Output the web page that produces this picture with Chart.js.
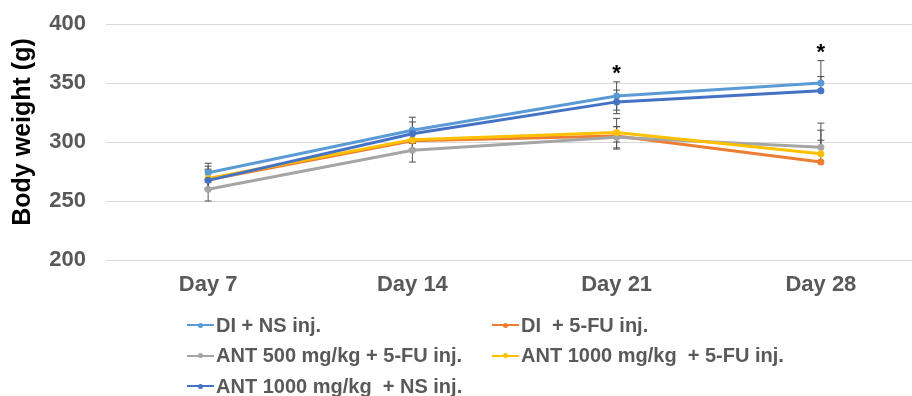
<!DOCTYPE html>
<html>
<head>
<meta charset="utf-8">
<script src="https://cdn.jsdelivr.net/npm/chart.js@4.4.1/dist/chart.umd.min.js"></script>
<style>
  html, body { margin: 0; padding: 0; background: #fff; overflow: hidden; }
  #wrap { position: relative; width: 927px; height: 396px; }
  #legend { position: absolute; left: 0; top: 0; width: 927px; height: 396px; pointer-events: none;
            font-family: "Liberation Sans", Arial, sans-serif; font-weight: bold; font-size: 20px; color: #595959; }
  .item { position: absolute; display: flex; align-items: center; height: 30px; white-space: pre; }
  .mark { position: relative; width: 27px; height: 30px; margin-right: 2px; }
  .mark .ln { position: absolute; left: 0; right: 0; top: 14px; height: 2px; }
  .mark .dot { position: absolute; left: 11px; top: 12.5px; width: 5px; height: 5px; border-radius: 50%; }
</style>
</head>
<body>
<div id="wrap">
  <canvas id="weightChart" width="927" height="300"></canvas>
  <div id="legend"></div>
</div>
<script>
// categorias y valores (g)
const days = ['Day 7', 'Day 14', 'Day 21', 'Day 28'];
const yTicks = [200, 250, 300, 350, 400];
const sigDays = ['Day 21', 'Day 28'];

const seriesNames = [
    'DI + NS inj.',
    'DI  + 5-FU inj.',
    'ANT 500 mg/kg + 5-FU inj.',
    'ANT 1000 mg/kg  + 5-FU inj.',
    'ANT 1000 mg/kg  + NS inj.'
];
const seriesColors = ['#5B9BD5', '#ED7D31', '#A5A5A5', '#FFC000', '#4472C4'];

const diNs       = [274, 310, 339, 350];
const di5fu      = [268, 301, 305, 283];
const ant500fu   = [260, 293, 304, 295.5];
const ant1000fu  = [269, 302, 308, 290];
const ant1000ns  = [267.5, 307, 334, 343.5];

// barras de error [arriba, abajo]
const diNsErr      = [[8, 8], [11, 11], [12, 12], [19, 0]];
const di5fuErr     = [[8, 8], [8, 8], [15, 10], [18.5, 0]];
const ant500fuErr  = [[8, 10], [8, 10], [9, 10], [20.5, 0]];
const ant1000fuErr = [[8, 8], [8, 8], [5, 8], [20, 0]];
const ant1000nsErr = [[12, 8], [10, 8], [10, 10], [12, 0]];

const seriesData = [diNs, di5fu, ant500fu, ant1000fu, ant1000ns];
const seriesErr = [diNsErr, di5fuErr, ant500fuErr, ant1000fuErr, ant1000nsErr];

const fontFam = '"Liberation Sans", Arial, sans-serif';

// plugin: barras de error, asteriscos y titulo del eje Y
const extrasPlugin = {
    id: 'extras',
    beforeDatasetsDraw(chart) {
        const ctx = chart.ctx;
        const x = chart.scales.x, y = chart.scales.y;
        ctx.save();
        ctx.strokeStyle = '#505050';
        ctx.lineWidth = 1;
        chart.data.datasets.forEach(function(ds, di) {
            ds.data.forEach(function(v, i) {
                const e = seriesErr[di][i];
                const px = x.getPixelForValue(i);
                const top = y.getPixelForValue(v + e[0]);
                const bot = y.getPixelForValue(v - e[1]);
                ctx.beginPath();
                ctx.moveTo(px, top); ctx.lineTo(px, bot);
                if (e[0] > 0) { ctx.moveTo(px - 3.5, top); ctx.lineTo(px + 3.5, top); }
                if (e[1] > 0) { ctx.moveTo(px - 3.5, bot); ctx.lineTo(px + 3.5, bot); }
                ctx.stroke();
            });
        });
        ctx.restore();
    },
    afterDraw(chart) {
        const ctx = chart.ctx;
        const x = chart.scales.x, y = chart.scales.y;
        ctx.save();
        ctx.fillStyle = '#000';
        ctx.font = 'bold 22px ' + fontFam;
        ctx.textAlign = 'center';
        ctx.textBaseline = 'alphabetic';
        sigDays.forEach(function(d) {
            const i = days.indexOf(d);
            let maxTop = 0;
            seriesData.forEach(function(s, si) {
                maxTop = Math.max(maxTop, s[i] + seriesErr[si][i][0]);
            });
            ctx.fillText('*', x.getPixelForValue(i), y.getPixelForValue(maxTop) - 2);
        });
        // titulo eje Y
        ctx.font = 'bold 25px ' + fontFam;
        ctx.translate(23, 132);
        ctx.rotate(-Math.PI / 2);
        ctx.textBaseline = 'middle';
        ctx.fillText('Body weight (g)', 0, 0);
        ctx.restore();
    }
};

const ctx1 = document.getElementById('weightChart');
new Chart(ctx1, {
    type: 'line',
    data: {
        labels: days,
        datasets: seriesData.map(function(s, i) {
            return {
                label: seriesNames[i],
                data: s,
                order: seriesData.length - i, // las ultimas series quedan encima
                borderColor: seriesColors[i],
                backgroundColor: seriesColors[i],
                borderWidth: 3,
                pointRadius: 3.5,
                pointBorderWidth: 0,
                tension: 0,
                fill: false
            };
        })
    },
    options: {
        responsive: false,
        animation: false,
        devicePixelRatio: 1,
        layout: { padding: { top: 24, left: 0, right: 0, bottom: 0 } },
        plugins: {
            legend: { display: false },
            tooltip: { enabled: false }
        },
        scales: {
            x: {
                offset: true,
                grid: { display: false, drawTicks: false },
                border: { display: false },
                ticks: {
                    color: '#595959',
                    padding: 12,
                    font: { family: fontFam, size: 22, weight: 'bold' }
                },
                afterFit: function(scale) { scale.height = 40; }
            },
            y: {
                min: yTicks[0],
                max: yTicks[yTicks.length - 1],
                afterBuildTicks: function(scale) {
                    scale.ticks = yTicks.map(function(v) { return { value: v }; });
                },
                grid: { color: '#D9D9D9', lineWidth: 1, drawTicks: false },
                border: { display: false },
                ticks: {
                    color: '#595959',
                    padding: 20,
                    font: { family: fontFam, size: 22, weight: 'bold' }
                },
                afterFit: function(scale) {
                    scale.width = 106;
                    scale.paddingTop = 0;
                    scale.paddingBottom = 0;
                }
            }
        }
    },
    plugins: [extrasPlugin]
});

// leyenda en HTML (dos columnas como el original)
const legendPos = [[187, 325], [492, 325], [187, 355.5], [492, 355.5], [187, 386]];
const legendEl = document.getElementById('legend');
seriesNames.forEach(function(name, i) {
    const it = document.createElement('div');
    it.className = 'item';
    it.style.left = legendPos[i][0] + 'px';
    it.style.top = (legendPos[i][1] - 15) + 'px';
    it.innerHTML = '<span class="mark"><span class="ln" style="background:' + seriesColors[i] +
        '"></span><span class="dot" style="background:' + seriesColors[i] + '"></span></span>';
    const t = document.createElement('span');
    t.textContent = name;
    it.appendChild(t);
    legendEl.appendChild(it);
});
</script>
</body>
</html>
